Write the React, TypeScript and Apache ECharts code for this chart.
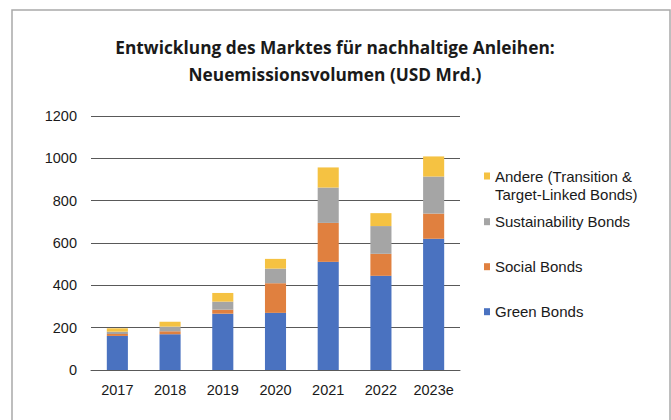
import React, { useEffect, useRef } from "react";
import * as echarts from "echarts";

const categories = ["2017", "2018", "2019", "2020", "2021", "2022", "2023e"];
const greenBonds = [161, 169, 266, 270, 511, 445, 620];
const socialBonds = [9, 14, 19, 140, 184, 104, 119];
const sustainabilityBonds = [11, 22, 38, 69, 167, 131, 175];
const andere = [16, 23, 41, 46, 95, 61, 95];

const seriesNames = [
  "Green Bonds",
  "Social Bonds",
  "Sustainability Bonds",
  "Andere (Transition & Target-Linked Bonds)",
];
const colors = ["#4A72C0", "#E0803F", "#A5A5A5", "#F5C242"];

const FONT = "Liberation Sans";

export default function App() {
  const ref = useRef<HTMLDivElement>(null);
  useEffect(() => {
    if (!ref.current) return;
    const chart = echarts.init(ref.current, null, { renderer: "svg" });
    const legendText = { fontFamily: FONT, fontSize: 15, color: "#1a1a1a", lineHeight: 18 };
    const simpleLegend = (name: string, top: number) => ({
      data: [name],
      left: 484,
      top,
      padding: 0,
      itemWidth: 6,
      itemHeight: 7,
      icon: "rect",
      selectedMode: false,
      textStyle: legendText,
    });
    chart.setOption({
      animation: false,
      backgroundColor: "#ffffff",
      color: colors,
      textStyle: { fontFamily: FONT },
      title: {
        text: "Entwicklung des Marktes für nachhaltige Anleihen:\nNeuemissionsvolumen (USD Mrd.)",
        left: 335,
        textAlign: "center",
        top: 34,
        padding: 0,
        textStyle: {
          fontFamily: "Open Sans",
          fontWeight: "bold",
          fontSize: 17.3,
          lineHeight: 27,
          color: "#1a1a1a",
        },
      },
      graphic: [
        {
          type: "rect",
          shape: { x: 12, y: 10, width: 658, height: 430 },
          style: { fill: "none", stroke: "#a9a9a9", lineWidth: 1.5 },
          silent: true,
        },
      ],
      legend: [
        {
          data: [seriesNames[3]],
          left: 484,
          top: 167,
          padding: 0,
          itemWidth: 6,
          itemHeight: 25,
          icon: "path://M0,0H6V7H0Z M0,24.98H6V25H0Z",
          selectedMode: false,
          formatter: () => "Andere (Transition &\nTarget-Linked Bonds)",
          textStyle: legendText,
        },
        simpleLegend(seriesNames[2], 212.7),
        simpleLegend(seriesNames[1], 257.7),
        simpleLegend(seriesNames[0], 302.7),
      ],
      grid: { left: 91, right: 211, top: 116, bottom: 50, containLabel: false },
      xAxis: {
        type: "category",
        data: categories,
        axisLine: { show: true, lineStyle: { color: "#595959", width: 1 } },
        axisTick: { show: false },
        axisLabel: { fontFamily: FONT, fontSize: 14.5, color: "#1a1a1a", margin: 12 },
      },
      yAxis: {
        type: "value",
        min: 0,
        max: 1200,
        interval: 200,
        axisLine: { show: false },
        axisTick: { show: false },
        splitLine: { lineStyle: { color: "#595959", width: 1 } },
        axisLabel: {
          fontFamily: FONT,
          fontSize: 14.5,
          color: "#1a1a1a",
          margin: 14,
          formatter: (v: number) => String(v),
        },
      },
      series: [greenBonds, socialBonds, sustainabilityBonds, andere].map((d, i) => ({
        name: seriesNames[i],
        type: "bar",
        stack: "total",
        data: d,
        barWidth: "40%",
        itemStyle: { color: colors[i] },
      })),
    });
    return () => chart.dispose();
  }, []);
  return (
    <div
      ref={ref}
      style={{ position: "absolute", left: 0, top: 0, width: 671, height: 420, background: "#fff" }}
    />
  );
}
